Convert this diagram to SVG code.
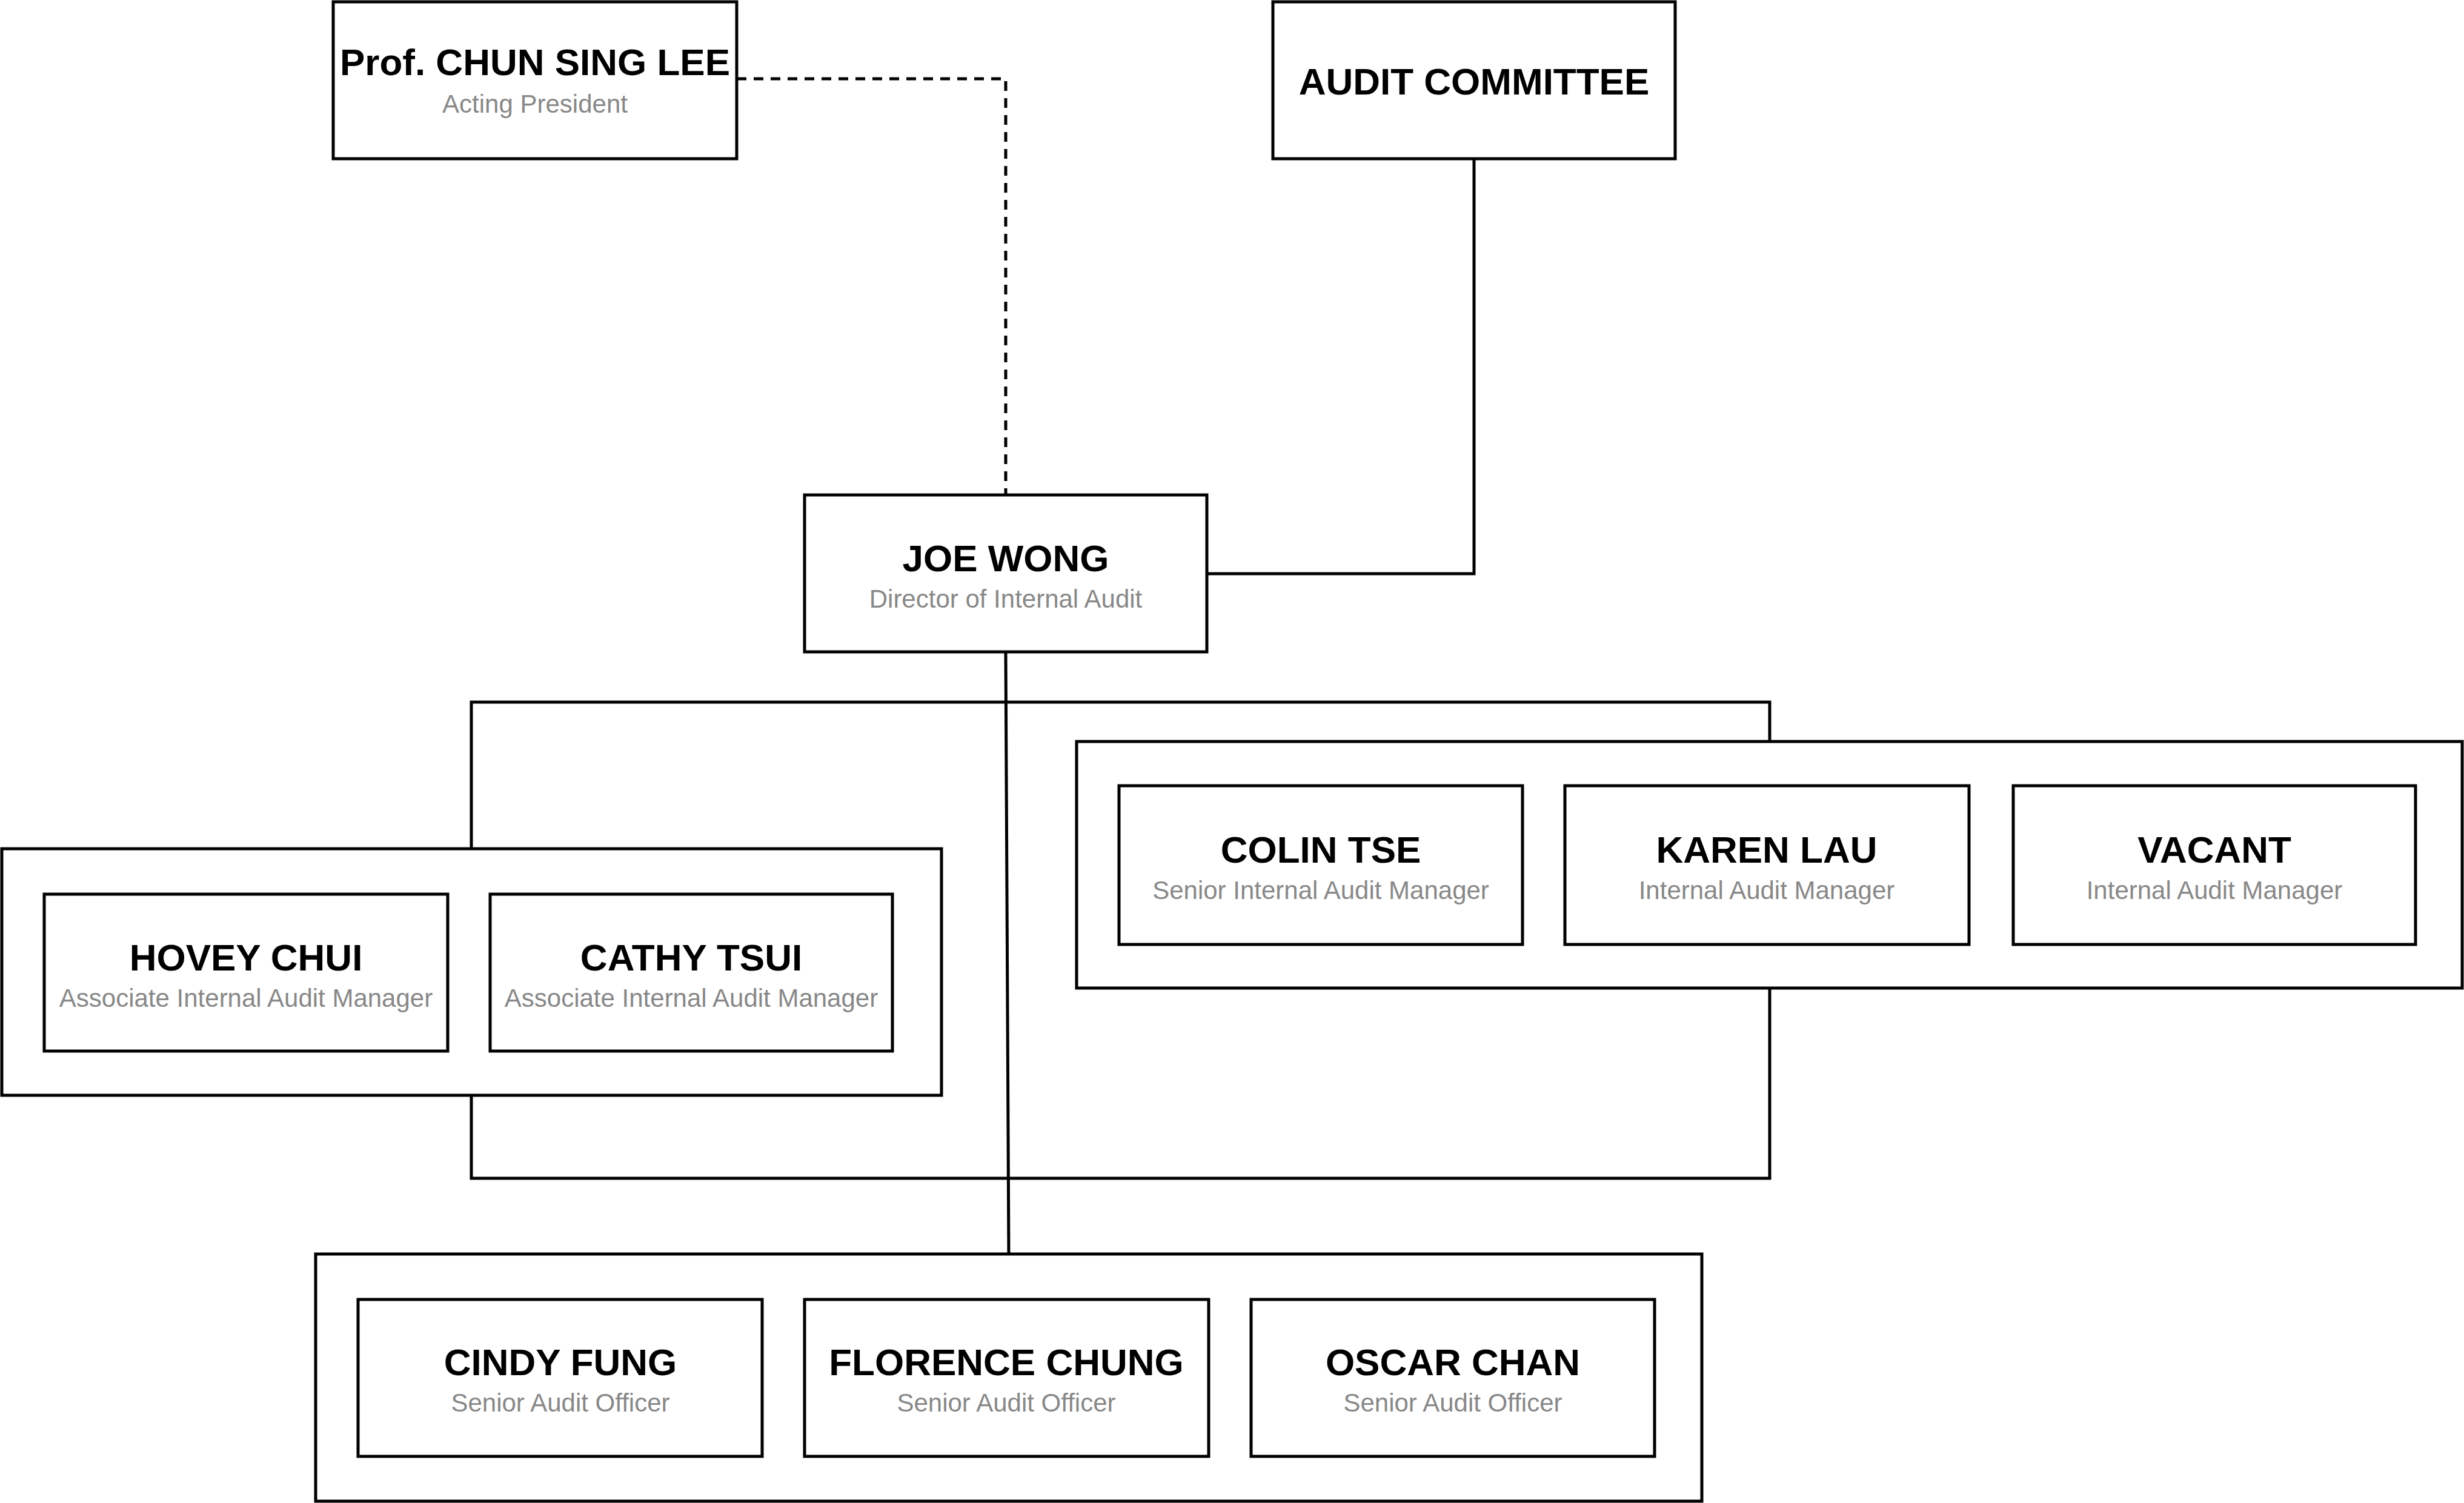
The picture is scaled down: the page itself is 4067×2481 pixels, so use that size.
<svg xmlns="http://www.w3.org/2000/svg" width="4067" height="2481" viewBox="0 0 4067 2481">
<style>
.b{fill:#fff;stroke:#000;stroke-width:5}
.g{fill:none;stroke:#000;stroke-width:5}
.n{font-family:"Liberation Sans",Arial,sans-serif;font-weight:bold;font-size:62px;text-anchor:middle;fill:#000}
.t{font-family:"Liberation Sans",Arial,sans-serif;font-size:42px;text-anchor:middle;fill:#888}
.c{fill:none;stroke:#000;stroke-width:5}
</style>
<rect width="4067" height="2481" fill="#fff"/>
<g id="connectors">
<path class="c" d="M1216,130H1660V817" stroke-dasharray="16,12"/>
<path class="c" d="M2433,262V947H1992"/>
<path class="c" d="M1660,1076L1665,2070"/>
<path class="c" d="M778,1401V1159H2921V1224"/>
<path class="c" d="M778,1808V1945H2921V1631"/>
</g>
<g id="groupLeft"><rect class="g" x="3" y="1401" width="1551" height="407"/></g>
<g id="groupRight"><rect class="g" x="1777" y="1224" width="2287" height="407"/></g>
<g id="groupBottom"><rect class="g" x="521" y="2070" width="2288" height="408"/></g>
<g id="prof"><rect class="b" x="550" y="3" width="666" height="259"/><text class="n" x="883" y="124">Prof. CHUN SING LEE</text><text class="t" x="883" y="186">Acting President</text></g>
<g id="audit"><rect class="b" x="2101" y="3" width="664" height="259"/><text class="n" x="2433" y="156">AUDIT COMMITTEE</text></g>
<g id="joe"><rect class="b" x="1328" y="817" width="664" height="259"/><text class="n" x="1660" y="943">JOE WONG</text><text class="t" x="1660" y="1003">Director of Internal Audit</text></g>
<g id="hovey"><rect class="b" x="73" y="1476" width="666" height="259"/><text class="n" x="406" y="1602">HOVEY CHUI</text><text class="t" x="406" y="1662">Associate Internal Audit Manager</text></g>
<g id="cathy"><rect class="b" x="809" y="1476" width="664" height="259"/><text class="n" x="1141" y="1602">CATHY TSUI</text><text class="t" x="1141" y="1662">Associate Internal Audit Manager</text></g>
<g id="colin"><rect class="b" x="1847" y="1297" width="666" height="262"/><text class="n" x="2180" y="1424">COLIN TSE</text><text class="t" x="2180" y="1484">Senior Internal Audit Manager</text></g>
<g id="karen"><rect class="b" x="2583" y="1297" width="667" height="262"/><text class="n" x="2916" y="1424">KAREN LAU</text><text class="t" x="2916" y="1484">Internal Audit Manager</text></g>
<g id="vacant"><rect class="b" x="3323" y="1297" width="664" height="262"/><text class="n" x="3655" y="1424">VACANT</text><text class="t" x="3655" y="1484">Internal Audit Manager</text></g>
<g id="cindy"><rect class="b" x="591" y="2145" width="667" height="259"/><text class="n" x="925" y="2270">CINDY FUNG</text><text class="t" x="925" y="2330">Senior Audit Officer</text></g>
<g id="florence"><rect class="b" x="1328" y="2145" width="667" height="259"/><text class="n" x="1661" y="2270">FLORENCE CHUNG</text><text class="t" x="1661" y="2330">Senior Audit Officer</text></g>
<g id="oscar"><rect class="b" x="2065" y="2145" width="666" height="259"/><text class="n" x="2398" y="2270">OSCAR CHAN</text><text class="t" x="2398" y="2330">Senior Audit Officer</text></g>
</svg>
